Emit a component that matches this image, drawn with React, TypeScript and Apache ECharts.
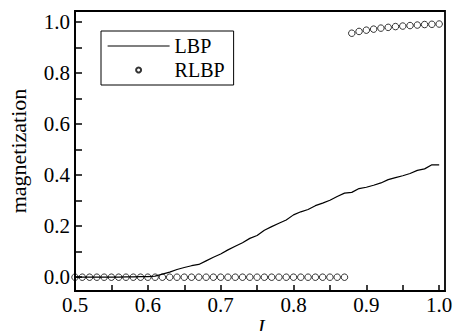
import React, { useEffect, useRef } from "react";
import * as echarts from "echarts";

const lbpJ = [0.5, 0.51, 0.52, 0.53, 0.54, 0.55, 0.56, 0.57, 0.58, 0.59, 0.6, 0.61, 0.62, 0.63, 0.64, 0.65, 0.66, 0.67, 0.68, 0.69, 0.7, 0.71, 0.72, 0.73, 0.74, 0.75, 0.76, 0.77, 0.78, 0.79, 0.8, 0.81, 0.82, 0.83, 0.84, 0.85, 0.86, 0.87, 0.88, 0.89, 0.9, 0.91, 0.92, 0.93, 0.94, 0.95, 0.96, 0.97, 0.98, 0.99, 1.0];
const lbpM = [0.0, 0.0, 0.0, 0.0, 0.0, 0.0, 0.0, 0.001, 0.001, 0.002, 0.002, 0.004, 0.012, 0.02, 0.03, 0.038, 0.045, 0.05, 0.064, 0.078, 0.091, 0.107, 0.121, 0.135, 0.152, 0.163, 0.184, 0.198, 0.211, 0.224, 0.244, 0.256, 0.265, 0.28, 0.29, 0.301, 0.316, 0.329, 0.332, 0.347, 0.352, 0.36, 0.369, 0.382, 0.39, 0.397, 0.406, 0.418, 0.424, 0.44, 0.44];

const rlbpLowJ = [0.5, 0.51, 0.52, 0.53, 0.54, 0.55, 0.56, 0.57, 0.58, 0.59, 0.6, 0.61, 0.62, 0.63, 0.64, 0.65, 0.66, 0.67, 0.68, 0.69, 0.7, 0.71, 0.72, 0.73, 0.74, 0.75, 0.76, 0.77, 0.78, 0.79, 0.8, 0.81, 0.82, 0.83, 0.84, 0.85, 0.86, 0.87];
const rlbpLowM = [0, 0, 0, 0, 0, 0, 0, 0, 0, 0, 0, 0, 0, 0, 0, 0, 0, 0, 0, 0, 0, 0, 0, 0, 0, 0, 0, 0, 0, 0, 0, 0, 0, 0, 0, 0, 0, 0];
const rlbpHighJ = [0.88, 0.89, 0.9, 0.91, 0.92, 0.93, 0.94, 0.95, 0.96, 0.97, 0.98, 0.99, 1.0];
const rlbpHighM = [0.955, 0.962, 0.967, 0.971, 0.975, 0.978, 0.981, 0.983, 0.985, 0.987, 0.989, 0.99, 0.991];

const xTicks = [0.5, 0.55, 0.6, 0.65, 0.7, 0.75, 0.8, 0.85, 0.9, 0.95, 1.0];
const xLabels = [0.5, 0.6, 0.7, 0.8, 0.9, 1.0];
const yTicks = [0, 0.1, 0.2, 0.3, 0.4, 0.5, 0.6, 0.7, 0.8, 0.9, 1.0];
const yLabels = [0, 0.2, 0.4, 0.6, 0.8, 1.0];

const FONT = "Liberation Serif";

export default function App() {
  const ref = useRef<HTMLDivElement>(null);
  useEffect(() => {
    if (!ref.current) return;
    const chart = echarts.init(ref.current, null, { renderer: "svg" });
    const lineData = lbpJ.map((x, i) => [x, lbpM[i]]);
    const scatterData = rlbpLowJ
      .map((x, i) => [x, rlbpLowM[i]])
      .concat(rlbpHighJ.map((x, i) => [x, rlbpHighM[i]]));
    chart.setOption({
      animation: false,
      backgroundColor: "#fff",
      textStyle: { fontFamily: FONT },
      grid: {
        left: 75,
        right: 9,
        top: 11,
        bottom: 40,
        show: true,
        borderColor: "#000",
        borderWidth: 1.8,
        containLabel: false,
        outerBoundsMode: "none",
      },
      legend: {
        orient: "vertical",
        left: 101,
        top: 31,
        padding: [5, 9, 5, 6],
        itemGap: 4,
        itemWidth: 62,
        itemHeight: 5,
        borderColor: "#000",
        borderWidth: 1,
        textStyle: {
          fontFamily: FONT,
          fontSize: 20,
          color: "#000",
        },
        data: [
          { name: "LBP", itemStyle: { opacity: 0 }, lineStyle: { color: "#000", width: 1.2 } },
          { name: "RLBP" },
        ],
      },
      xAxis: {
        type: "value",
        min: 0.5,
        max: 1.008,
        name: "J",
        nameLocation: "middle",
        nameGap: 25,
        nameMoveOverlap: false,
        nameTextStyle: { fontFamily: FONT, fontSize: 21, fontStyle: "italic", color: "#000" },
        axisLine: { show: true, onZero: false, lineStyle: { color: "#000", width: 1.8 } },
        axisTick: { show: true, inside: true, length: 6, customValues: xTicks, lineStyle: { color: "#000", width: 1.5 } },
        axisLabel: {
          customValues: xLabels,
          margin: 3,
          fontFamily: FONT,
          fontSize: 21,
          color: "#000",
          formatter: (v: number) => v.toFixed(1),
        },
        splitLine: { show: false },
      },
      yAxis: {
        type: "value",
        min: -0.054,
        max: 1.042,
        name: "magnetization",
        nameLocation: "middle",
        nameGap: 46,
        nameMoveOverlap: false,
        nameTextStyle: { fontFamily: FONT, fontSize: 22, color: "#000" },
        axisLine: { show: true, onZero: false, lineStyle: { color: "#000", width: 1.8 } },
        axisTick: { show: true, inside: true, length: 7, customValues: yTicks, lineStyle: { color: "#000", width: 1.5 } },
        axisLabel: {
          customValues: yLabels,
          margin: 5,
          fontFamily: FONT,
          fontSize: 21,
          color: "#000",
          formatter: (v: number) => v.toFixed(1),
        },
        splitLine: { show: false },
      },
      series: [
        {
          name: "LBP",
          type: "line",
          data: lineData,
          symbol: "none",
          lineStyle: { color: "#000", width: 1.2 },
          itemStyle: { color: "#000" },
          z: 3,
        },
        {
          name: "RLBP",
          type: "scatter",
          data: scatterData,
          symbol: "circle",
          symbolSize: 6.5,
          itemStyle: { color: "rgba(0,0,0,0)", borderColor: "#000", borderWidth: 1 },
          z: 2,
        },
      ],
    });
    return () => chart.dispose();
  }, []);
  return <div ref={ref} style={{ width: 454, height: 331, position: "absolute", left: 0, top: 0 }} />;
}
